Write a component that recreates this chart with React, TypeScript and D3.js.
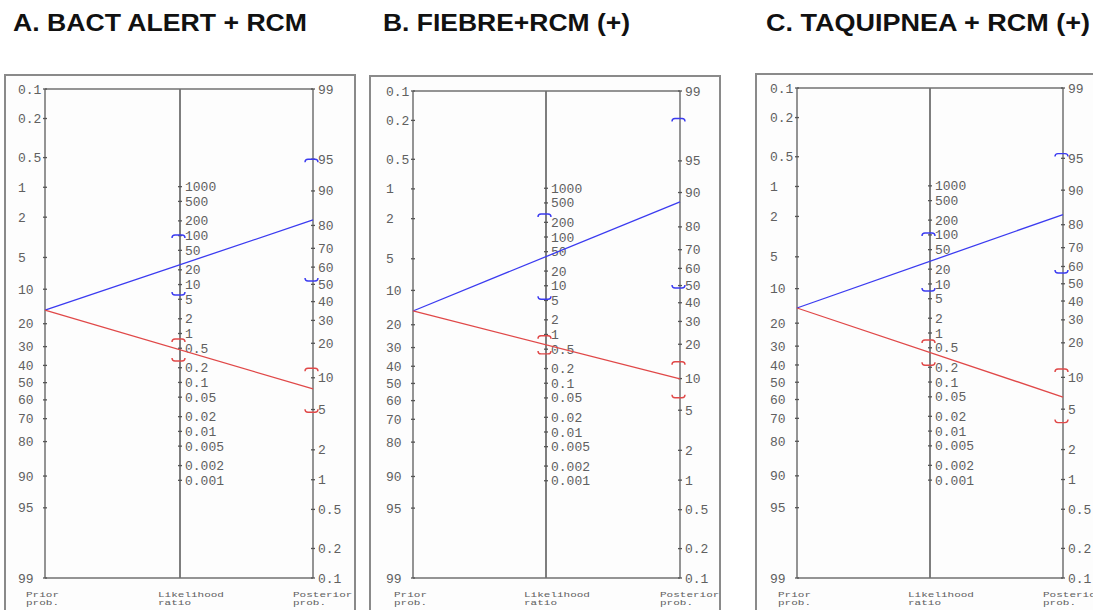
import React from "react";
import * as d3 from "d3";

// ---- data ----
const panelTitles = ["A. BACT ALERT + RCM", "B. FIEBRE+RCM (+)", "C. TAQUIPNEA + RCM (+)"];
const priorProb = [15.4, 15.3, 14.9]; // %
const lrPositive = [25, 40, 29];
const lrNegative = [0.47, 0.61, 0.4];
const lrPosCI = [[6.1, 103], [5.3, 296], [7.2, 109]];
const lrNegCI = [[0.274, 0.77], [0.4, 0.94], [0.22, 0.72]];
const postPosCI = [[52, 95], [48.6, 98.1], [56.3, 95.5]]; // %
const postNegCI = [[4.7, 12.2], [6.6, 14.2], [3.7, 11.9]]; // %

const priorTicks = ["0.1", "0.2", "0.5", "1", "2", "5", "10", "20", "30", "40", "50", "60", "70", "80", "90", "95", "99"];
const lrTicks = ["1000", "500", "200", "100", "50", "20", "10", "5", "2", "1", "0.5", "0.2", "0.1", "0.05", "0.02", "0.01", "0.005", "0.002", "0.001"];
const postTicks = ["99", "95", "90", "80", "70", "60", "50", "40", "30", "20", "10", "5", "2", "1", "0.5", "0.2", "0.1"];

// ---- layout ----
const layout = [
  { fx: 5, fy: 75, fw: 350, ax: 45, mx: 180, rx: 313, top: 89, bottom: 578, tx: 13, tw: 294 },
  { fx: 370, fy: 76, fw: 350, ax: 413, mx: 546, rx: 680, top: 91, bottom: 578, tx: 383, tw: 247 },
  { fx: 756, fy: 74, fw: 360, ax: 797, mx: 930, rx: 1063, top: 88, bottom: 578, tx: 766, tw: 324 },
];

const logit = (p: number) => Math.log(p / (1 - p));
const LO = logit(0.001);
const HI = logit(0.99);

const BLUE = "#3b3bf0";
const RED = "#e04848";
const AXIS = "#707070";
const TXT = "#606060";
const MONO = "'Liberation Mono', 'DejaVu Sans Mono', monospace";

function Bracket({ x, y, dir, color }: { x: number; y: number; dir: number; color: string }) {
  const l = x - 8, r = x + 5, h = 3 * dir;
  const d = `M${l},${y + h} Q${l},${y} ${l + 3},${y} L${r - 3},${y} Q${r},${y} ${r},${y + h}`;
  return <path d={d} fill="none" stroke={color} strokeWidth={1.4} />;
}

function Panel({ i }: { i: number }) {
  const L = layout[i];
  const priorY = d3.scaleLinear().domain([LO, HI]).range([L.top, L.bottom]);
  const postY = d3.scaleLinear().domain([HI, LO]).range([L.top, L.bottom]);
  const lrY = d3.scaleLinear().domain([HI - LO, LO - HI]).range([L.top, L.bottom]);

  const p0 = logit(priorProb[i] / 100);
  const yPrior = priorY(p0);
  const yPostPos = postY(p0 + Math.log(lrPositive[i]));
  const yPostNeg = postY(p0 + Math.log(lrNegative[i]));

  const tick = (x: number, y: number, k: string) => (
    <line key={k} x1={x - 2} x2={x + 2} y1={y} y2={y} stroke="#555" strokeWidth={1.3} />
  );

  return (
    <g>
      <rect x={L.fx} y={L.fy} width={L.fw} height={600} fill="#fdfdfd" stroke="#8a8a8a" strokeWidth={2} />
      {/* axes frame */}
      <line x1={L.ax} x2={L.rx} y1={L.top} y2={L.top} stroke={AXIS} strokeWidth={1.5} />
      <line x1={L.ax} x2={L.rx} y1={L.bottom} y2={L.bottom} stroke={AXIS} strokeWidth={1.5} />
      <line x1={L.ax} x2={L.ax} y1={L.top} y2={L.bottom} stroke={AXIS} strokeWidth={1.5} />
      <line x1={L.mx} x2={L.mx} y1={L.top} y2={L.bottom} stroke={AXIS} strokeWidth={1.8} />
      <line x1={L.rx} x2={L.rx} y1={L.top} y2={L.bottom} stroke={AXIS} strokeWidth={1.5} />

      {priorTicks.map((t) => {
        const y = priorY(logit(+t / 100));
        return (
          <g key={"p" + t}>
            {tick(L.ax, y, "pt" + t)}
            <text x={L.ax - 27} y={y} dy="0.35em" fontFamily={MONO} fontSize={13} fill={TXT}>{t}</text>
          </g>
        );
      })}
      {lrTicks.map((t) => {
        const y = lrY(Math.log(+t));
        return (
          <g key={"l" + t}>
            {tick(L.mx, y, "lt" + t)}
            <text x={L.mx + 5} y={y} dy="0.35em" fontFamily={MONO} fontSize={13} fill={TXT}>{t}</text>
          </g>
        );
      })}
      {postTicks.map((t) => {
        const y = postY(logit(+t / 100));
        return (
          <g key={"q" + t}>
            {tick(L.rx, y, "qt" + t)}
            <text x={L.rx + 5} y={y} dy="0.35em" fontFamily={MONO} fontSize={13} fill={TXT}>{t}</text>
          </g>
        );
      })}

      {/* lines */}
      <line x1={L.ax} y1={yPrior} x2={L.rx} y2={yPostPos} stroke={BLUE} strokeWidth={1.3} />
      <line x1={L.ax} y1={yPrior} x2={L.rx} y2={yPostNeg} stroke={RED} strokeWidth={1.3} />

      {/* confidence brackets */}
      <Bracket x={L.mx} y={lrY(Math.log(lrPosCI[i][1]))} dir={1} color={BLUE} />
      <Bracket x={L.mx} y={lrY(Math.log(lrPosCI[i][0]))} dir={-1} color={BLUE} />
      <Bracket x={L.rx} y={postY(logit(postPosCI[i][1] / 100))} dir={1} color={BLUE} />
      <Bracket x={L.rx} y={postY(logit(postPosCI[i][0] / 100))} dir={-1} color={BLUE} />
      <Bracket x={L.mx} y={lrY(Math.log(lrNegCI[i][1]))} dir={1} color={RED} />
      <Bracket x={L.mx} y={lrY(Math.log(lrNegCI[i][0]))} dir={-1} color={RED} />
      <Bracket x={L.rx} y={postY(logit(postNegCI[i][1] / 100))} dir={1} color={RED} />
      <Bracket x={L.rx} y={postY(logit(postNegCI[i][0] / 100))} dir={-1} color={RED} />

      {/* bottom captions */}
      {[
        [L.ax - 19, "Prior", "prob."],
        [L.mx - 22, "Likelihood", "ratio"],
        [L.rx - 20, "Posterior", "prob."],
      ].map(([x, a, b]) => (
        <g key={"c" + a} transform={`translate(${x},0)`}>
          <text x={0} y={0} fontFamily={MONO} fontSize={11} fill={TXT} transform="translate(0,597) scale(1,0.7)">{a}</text>
          <text x={0} y={0} fontFamily={MONO} fontSize={11} fill={TXT} transform="translate(0,605) scale(1,0.7)">{b}</text>
        </g>
      ))}

      <text x={L.tx} y={31} fontFamily="'Liberation Sans', Arial, sans-serif" fontWeight="bold" fontSize={23}
        textLength={L.tw} lengthAdjust="spacingAndGlyphs" fill="#111">{panelTitles[i]}</text>
    </g>
  );
}

export default function App() {
  return (
    <svg width={1093} height={610} style={{ position: "absolute", left: 0, top: 0, background: "#fff" }}>
      <rect width={1093} height={610} fill="#fff" />
      {panelTitles.map((_, i) => <Panel key={i} i={i} />)}
    </svg>
  );
}
